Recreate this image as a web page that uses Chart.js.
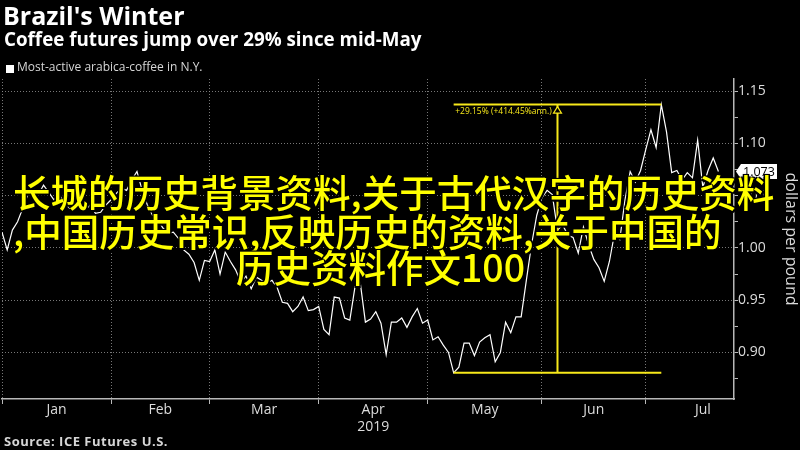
<!DOCTYPE html>
<html>
<head>
<meta charset="utf-8">
<script src="https://cdn.jsdelivr.net/npm/chart.js@4.4.1/dist/chart.umd.min.js"></script>
<style>
html, body { margin: 0; padding: 0; background: #000; }
#wrap { position: relative; width: 800px; height: 450px; background: #000; overflow: hidden; font-family: 'Open Sans', sans-serif; }
#c { position: absolute; left: 0; top: 0; }
.t { position: absolute; white-space: nowrap; line-height: 1; }
#title { left: 3px; top: 3px; font-weight: 700; font-size: 25px; color: #fff; }
#subtitle { left: 4px; top: 30px; font-weight: 700; font-size: 18.8px; color: #fff; }
#legend { left: 17px; top: 61px; font-size: 12px; color: #d6d6d6; }
#legendBox { position: absolute; left: 6px; top: 65px; width: 8px; height: 8px; background: #fff; }
#source { left: 4px; top: 435px; font-weight: 700; font-size: 13px; letter-spacing: 0.5px; color: #d6d6d6; }
.cn { position: absolute; white-space: nowrap; line-height: 1; font-family: 'Noto Sans CJK SC', sans-serif; font-weight: 500; font-size: 37.5px; color: #ffff00;
      text-shadow: -1.5px -1.5px 0 #000, 1.5px -1.5px 0 #000, -1.5px 1.5px 0 #000, 1.5px 1.5px 0 #000, 0 0 3px #000; }
#cn1 { left: 13px; top: 172px; }
#cn2 { left: 13px; top: 211px; }
#cn3 { left: 236px; top: 247px; }
</style>
</head>
<body>
<div id="wrap">
  <canvas id="c" width="800" height="450"></canvas>
  <div class="t" id="title">Brazil's Winter</div>
  <div class="t" id="subtitle">Coffee futures jump over 29% since mid-May</div>
  <div id="legendBox"></div>
  <div class="t" id="legend">Most-active arabica-coffee in N.Y.</div>
  <div class="t" id="source">Source: ICE Futures U.S.</div>
  <div class="cn" id="cn1">长城的历史背景资料,关于古代汉字的历史资料</div>
  <div class="cn" id="cn2">,中国历史常识,反映历史的资料,关于中国的</div>
  <div class="cn" id="cn3">历史资料作文100</div>
</div>
<script>
// trading-day positions of month starts and month label centres
const monthStarts = [0, 21, 40, 61, 82, 104, 124];
const monthMids = [10.5, 30.5, 50.5, 71.5, 93, 114, 135];
const monthNames = ['Jan', 'Feb', 'Mar', 'Apr', 'May', 'Jun', 'Jul'];
const yearLabel = '2019';

// most-active arabica coffee, dollars per pound, one value per trading day
const prices = [
  1.015, 0.998, 1.017, 1.025, 1.038, 1.051, 1.057, 1.051, 1.060, 1.053,
  1.046, 1.051, 1.043, 1.038, 1.050, 1.039, 1.036, 1.041, 1.033, 1.034,
  1.041, 1.046, 1.052, 1.057, 1.055, 1.065, 1.073, 1.055, 1.041, 1.031,
  1.027, 1.019, 1.014, 1.015, 1.009, 0.998, 0.994, 0.986, 0.969, 0.988,
  0.987, 0.998, 0.975, 0.996, 0.987, 0.979, 0.967, 0.973, 0.961, 0.972,
  0.969, 0.966, 0.969, 0.962, 0.948, 0.947, 0.939, 0.944, 0.953, 0.940,
  0.941, 0.944, 0.922, 0.917, 0.953, 0.952, 0.933, 0.931, 0.963, 0.967,
  0.929, 0.932, 0.939, 0.928, 0.898, 0.929, 0.929, 0.933, 0.924, 0.934,
  0.942, 0.928, 0.931, 0.912, 0.915, 0.907, 0.900, 0.8805, 0.886, 0.909,
  0.909, 0.897, 0.910, 0.914, 0.917, 0.891, 0.900, 0.929, 0.919, 0.934,
  0.934, 0.969, 1.003, 1.031, 1.048, 1.055, 1.051, 1.017, 1.022, 1.012,
  1.010, 0.995, 1.020, 1.003, 0.989, 0.981, 0.968, 0.987, 1.014, 1.008,
  1.046, 1.073, 1.063, 1.074, 1.094, 1.113, 1.096, 1.137, 1.111, 1.072,
  1.074, 1.065, 1.072, 1.067, 1.103, 1.058, 1.074, 1.086, 1.073
];

const yTicks = [0.875, 0.9, 0.925, 0.95, 0.975, 1.0, 1.025, 1.05, 1.075, 1.1, 1.125, 1.15];
const yMin = 0.8555, yMax = 1.1615;
const xMin = 0, xMax = 141;

// low-to-high move annotation
const moveLow = 87;
const moveHigh = 127;
const moveLabel = '+29.15% (+414.45%ann.)';

const YELLOW = '#f7e81a';
const GRID = 'rgba(140,140,140,0.85)';
const AXIS = '#b8b8b8';
const LABEL = '#dcdcdc';

const isMajor = v => Math.round(v * 1000) % 50 === 0;
const isMonthStart = v => monthStarts.includes(v);

const lowVal = prices[moveLow];
const highVal = prices[moveHigh];
const moveMid = (moveLow + moveHigh) / 2;

const annotationPlugin = {
  id: 'moveNotes',
  afterDatasetsDraw(chart) {
    const { ctx, scales: { x, y } } = chart;
    const xm = x.getPixelForValue(moveMid);
    const yt = y.getPixelForValue(highVal);
    ctx.save();
    // open triangle on top of the vertical bar
    ctx.beginPath();
    ctx.moveTo(xm, yt + 2);
    ctx.lineTo(xm + 4, yt + 8.5);
    ctx.lineTo(xm - 4, yt + 8.5);
    ctx.closePath();
    ctx.fillStyle = '#000';
    ctx.fill();
    ctx.strokeStyle = YELLOW;
    ctx.lineWidth = 1.2;
    ctx.stroke();
    // move label
    ctx.fillStyle = YELLOW;
    ctx.font = "8.5px 'Open Sans'";
    ctx.textBaseline = 'middle';
    ctx.textAlign = 'left';
    ctx.fillText(moveLabel, x.getPixelForValue(moveLow) + 1.5, yt + 6.5);

    // last value tag
    const last = prices[prices.length - 1];
    const yl = y.getPixelForValue(last);
    const xa = chart.chartArea.right;
    ctx.beginPath();
    ctx.moveTo(xa + 2, yl);
    ctx.lineTo(xa + 7, yl - 7.5);
    ctx.lineTo(xa + 43, yl - 7.5);
    ctx.lineTo(xa + 43, yl + 7.5);
    ctx.lineTo(xa + 7, yl + 7.5);
    ctx.closePath();
    ctx.fillStyle = '#fff';
    ctx.fill();
    ctx.fillStyle = '#000';
    ctx.font = "12.5px 'Open Sans'";
    ctx.fillText(last.toFixed(3), xa + 9, yl + 0.5);
    ctx.restore();
  }
};

new Chart(document.getElementById('c'), {
  type: 'line',
  data: {
    datasets: [
      { data: [{ x: moveLow, y: lowVal }, { x: moveHigh, y: lowVal }], borderColor: YELLOW, borderWidth: 2, pointRadius: 0 },
      { data: [{ x: moveLow, y: highVal }, { x: moveHigh, y: highVal }], borderColor: YELLOW, borderWidth: 2, pointRadius: 0 },
      { data: [{ x: moveMid, y: lowVal }, { x: moveMid, y: highVal }], borderColor: YELLOW, borderWidth: 2, pointRadius: 0 },
      { data: prices.map((v, i) => ({ x: i, y: v })), borderColor: '#fff', borderWidth: 1.2, pointRadius: 0, tension: 0 }
    ]
  },
  options: {
    responsive: false,
    animation: false,
    devicePixelRatio: 1,
    layout: { padding: { left: 2, top: 79, right: 0, bottom: 0 } },
    plugins: { legend: { display: false }, tooltip: { enabled: false } },
    scales: {
      x: {
        type: 'linear', min: xMin, max: xMax,
        afterBuildTicks: s => { s.ticks = [...monthStarts, ...monthMids].sort((a, b) => a - b).map(v => ({ value: v })); },
        afterFit: s => { s.height = 51; },
        grid: {
          color: c => (c.tick && isMonthStart(c.tick.value)) ? GRID : 'rgba(0,0,0,0)',
          tickColor: c => (c.tick && isMonthStart(c.tick.value)) ? AXIS : 'rgba(0,0,0,0)',
          tickLength: 5, lineWidth: 1
        },
        border: { color: AXIS, width: 1.5, dash: [1, 2] },
        ticks: {
          autoSkip: false, maxRotation: 0, padding: -2, color: LABEL,
          font: { family: 'Open Sans', size: 14 },
          callback: v => {
            const k = monthMids.indexOf(v);
            if (k < 0) return '';
            return monthNames[k] === 'Apr' ? [monthNames[k], yearLabel] : monthNames[k];
          }
        }
      },
      y: {
        type: 'linear', position: 'right', min: yMin, max: yMax,
        afterBuildTicks: s => { s.ticks = yTicks.map(v => ({ value: v })); },
        afterFit: s => { s.width = 66; },
        grid: {
          color: c => (c.tick && isMajor(c.tick.value)) ? GRID : 'rgba(0,0,0,0)',
          tickColor: AXIS, tickLength: 4, lineWidth: 1
        },
        border: { color: AXIS, width: 1.5, dash: [1, 2] },
        ticks: {
          padding: 0, color: LABEL, font: { family: 'Open Sans', size: 14 },
          callback: v => isMajor(v) ? v.toFixed(2) : ''
        },
        title: { display: true, text: 'dollars per pound', color: LABEL, font: { family: 'Open Sans', size: 16 }, padding: 0 }
      }
    }
  },
  plugins: [annotationPlugin]
});
</script>
</body>
</html>
